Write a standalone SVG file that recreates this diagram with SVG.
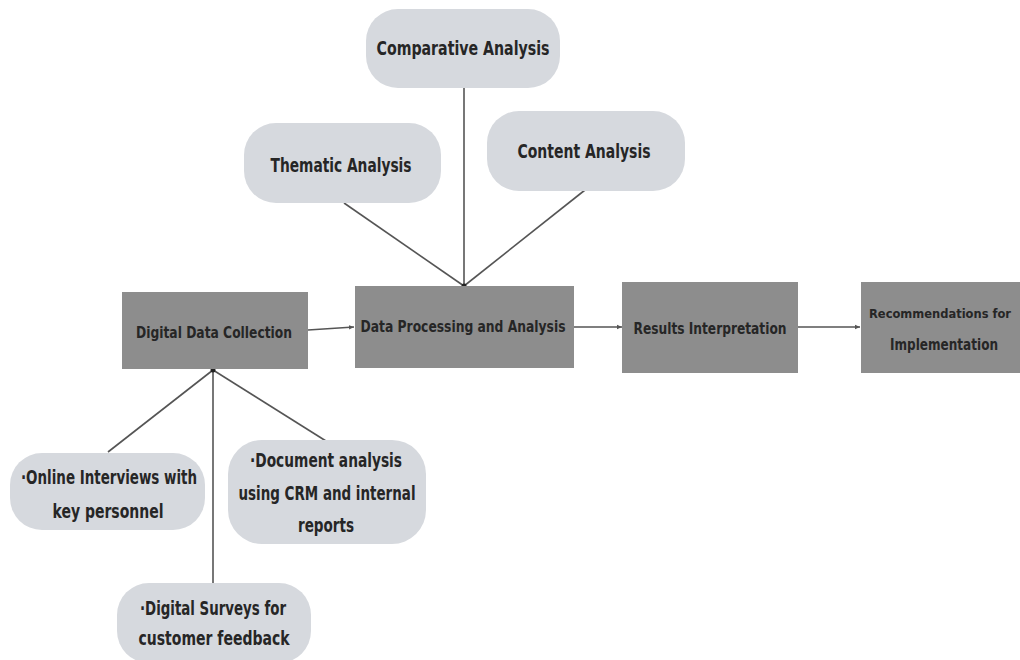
<svg xmlns="http://www.w3.org/2000/svg" width="1020" height="660" viewBox="0 0 1020 660">
<style>
.pill{fill:#d6d9de;}
.box{fill:#8d8d8d;}
.t{font-family:"DejaVu Sans Condensed","Liberation Sans",sans-serif;font-weight:bold;fill:#262626;text-anchor:middle;dominant-baseline:central;}
.pt{font-size:19px;}
.bt{font-size:15px;}
.ct{font-size:19px;}
.ln{stroke:#555;stroke-width:1.6;fill:none;}
</style>
<defs>
<marker id="ah" markerWidth="6" markerHeight="6" refX="5" refY="3" orient="auto" markerUnits="userSpaceOnUse">
<path d="M0,0.8 L5,3 L0,5.2 Z" fill="#555"/>
</marker>
</defs>
<rect width="1020" height="660" fill="#ffffff"/>
<g id="connectors">
<line class="ln" x1="344" y1="203" x2="464" y2="286"/>
<line class="ln" x1="464" y1="88" x2="464" y2="286"/>
<line class="ln" x1="585" y1="190" x2="464" y2="286"/>
<line class="ln" x1="308" y1="330" x2="354" y2="327" marker-end="url(#ah)"/>
<line class="ln" x1="574" y1="327" x2="622" y2="327" marker-end="url(#ah)"/>
<line class="ln" x1="798" y1="327" x2="860" y2="327" marker-end="url(#ah)"/>
<line class="ln" x1="213" y1="370" x2="108" y2="452"/>
<line class="ln" x1="213" y1="370" x2="213" y2="584"/>
<line class="ln" x1="213" y1="370" x2="326" y2="441"/>
<circle cx="464" cy="286" r="2.5" fill="#222"/>
<circle cx="213" cy="370" r="2.5" fill="#222"/>
</g>
<g id="comparative">
<rect class="pill" x="366" y="9" width="194" height="79" rx="32"/>
<text class="t pt" x="463" y="48" textLength="173" lengthAdjust="spacingAndGlyphs">Comparative Analysis</text>
</g>
<g id="thematic">
<rect class="pill" x="244" y="123" width="197" height="80" rx="32"/>
<text class="t pt" x="341" y="165" textLength="141" lengthAdjust="spacingAndGlyphs">Thematic Analysis</text>
</g>
<g id="content">
<rect class="pill" x="487" y="111" width="198" height="80" rx="32"/>
<text class="t pt" x="584" y="151" textLength="133" lengthAdjust="spacingAndGlyphs">Content Analysis</text>
</g>
<g id="digital-data-collection">
<rect class="box" x="122" y="292" width="186" height="77"/>
<text class="t bt" x="214" y="333" textLength="156" lengthAdjust="spacingAndGlyphs">Digital Data Collection</text>
</g>
<g id="data-processing">
<rect class="box" x="355" y="286" width="219" height="82"/>
<text class="t bt" x="463" y="327" textLength="205" lengthAdjust="spacingAndGlyphs">Data Processing and Analysis</text>
</g>
<g id="results-interpretation">
<rect class="box" x="622" y="282" width="176" height="91"/>
<text class="t bt" x="710" y="329" textLength="153" lengthAdjust="spacingAndGlyphs">Results Interpretation</text>
</g>
<g id="recommendations">
<rect class="box" x="861" y="282" width="159" height="91"/>
<text class="t" x="940" y="313" style="font-size:13px" textLength="142" lengthAdjust="spacingAndGlyphs">Recommendations for</text>
<text class="t bt" x="944" y="345" textLength="108" lengthAdjust="spacingAndGlyphs">Implementation</text>
</g>
<g id="online-interviews">
<rect class="pill" x="10" y="453" width="195" height="77" rx="32"/>
<text class="t ct" x="109" y="477" textLength="176" lengthAdjust="spacingAndGlyphs">·Online Interviews with</text>
<text class="t ct" x="108" y="511" textLength="111" lengthAdjust="spacingAndGlyphs">key personnel</text>
</g>
<g id="document-analysis">
<rect class="pill" x="228" y="440" width="198" height="104" rx="34"/>
<text class="t ct" x="326" y="460" textLength="152" lengthAdjust="spacingAndGlyphs">·Document analysis</text>
<text class="t ct" x="327" y="493" textLength="177" lengthAdjust="spacingAndGlyphs">using CRM and internal</text>
<text class="t ct" x="326" y="525" textLength="56" lengthAdjust="spacingAndGlyphs">reports</text>
</g>
<g id="digital-surveys">
<rect class="pill" x="117" y="583" width="194" height="80" rx="32"/>
<text class="t ct" x="213" y="608" textLength="146" lengthAdjust="spacingAndGlyphs">·Digital Surveys for</text>
<text class="t ct" x="214" y="638" textLength="151" lengthAdjust="spacingAndGlyphs">customer feedback</text>
</g>
</svg>
